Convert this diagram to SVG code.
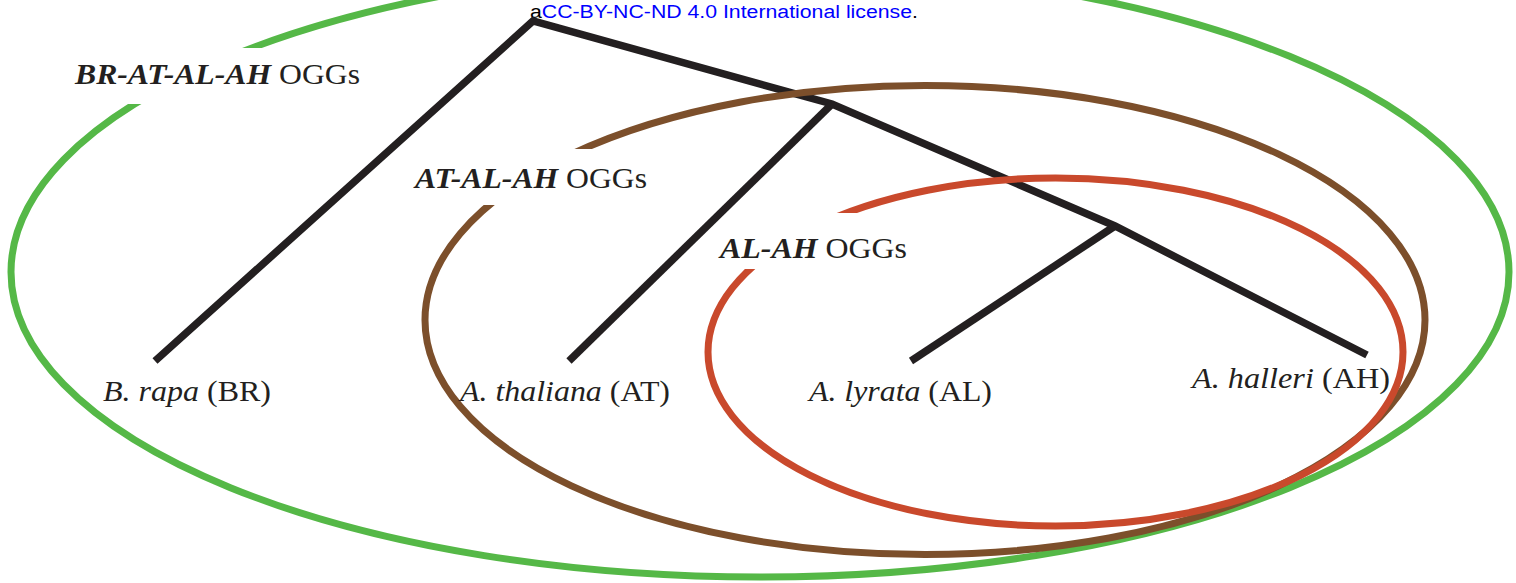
<svg xmlns="http://www.w3.org/2000/svg" width="1516" height="583" viewBox="0 0 1516 583">
<style>
.ring{fill:none;stroke-width:7}
.tree{fill:none;stroke:#231f20;stroke-width:7.5;stroke-linejoin:miter;stroke-linecap:butt}
.lbl{font-family:"Liberation Serif","Times New Roman",serif;fill:#231f20}
.ogg{font-size:30px}
.sp{font-size:29px}
.bi{font-weight:bold;font-style:italic}
.it{font-style:italic}
</style>
<defs>
<mask id="m-green" maskUnits="userSpaceOnUse" x="0" y="-60" width="1516" height="700">
<rect x="0" y="-60" width="1516" height="700" fill="#fff"/>
<rect x="60" y="48" width="320" height="56" fill="#000"/>
</mask>
<mask id="m-brown" maskUnits="userSpaceOnUse" x="0" y="0" width="1516" height="583">
<rect x="0" y="0" width="1516" height="583" fill="#fff"/>
<rect x="400" y="149" width="262" height="56" fill="#000"/>
</mask>
<mask id="m-red" maskUnits="userSpaceOnUse" x="0" y="0" width="1516" height="583">
<rect x="0" y="0" width="1516" height="583" fill="#fff"/>
<rect x="730" y="213" width="190" height="56" fill="#000"/>
</mask>
</defs>
<rect x="0" y="0" width="1516" height="583" fill="#fff"/>

<text x="530" y="17.5" font-family="Liberation Sans, Arial, sans-serif" font-size="18" fill="#000" textLength="388" lengthAdjust="spacingAndGlyphs">a<tspan fill="#0000ff">CC-BY-NC-ND 4.0 International license</tspan>.</text>

<g id="connectors">
<polyline class="tree" points="155,361 533,21 832,104 1115,226 1367,355"/>
<line class="tree" x1="832" y1="104" x2="569" y2="361"/>
<line class="tree" x1="1115" y1="226" x2="911" y2="361"/>
</g>

<g id="ogg-br-at-al-ah">
<ellipse class="ring" cx="760" cy="272" rx="749" ry="305" stroke="#55b847" mask="url(#m-green)"/>
<text class="lbl ogg" x="75" y="84" textLength="285" lengthAdjust="spacingAndGlyphs"><tspan class="bi">BR-AT-AL-AH</tspan> OGGs</text>
</g>

<g id="ogg-at-al-ah">
<ellipse class="ring" cx="925" cy="320" rx="500" ry="234.5" stroke="#7c4f2b" mask="url(#m-brown)"/>
<text class="lbl ogg" x="415" y="187.5" textLength="232" lengthAdjust="spacingAndGlyphs"><tspan class="bi">AT-AL-AH</tspan> OGGs</text>
</g>

<g id="ogg-al-ah">
<ellipse class="ring" cx="1055.5" cy="352" rx="347.5" ry="174" stroke="#c9492c" mask="url(#m-red)"/>
<text class="lbl ogg" x="720" y="257.5" textLength="187" lengthAdjust="spacingAndGlyphs"><tspan class="bi">AL-AH</tspan> OGGs</text>
</g>

<g id="sp-br">
<text class="lbl sp" x="103" y="401" textLength="168" lengthAdjust="spacingAndGlyphs"><tspan class="it">B. rapa</tspan> (BR)</text>
</g>
<g id="sp-at">
<text class="lbl sp" x="460" y="401" textLength="210" lengthAdjust="spacingAndGlyphs"><tspan class="it">A. thaliana</tspan> (AT)</text>
</g>
<g id="sp-al">
<text class="lbl sp" x="809" y="401" textLength="183" lengthAdjust="spacingAndGlyphs"><tspan class="it">A. lyrata</tspan> (AL)</text>
</g>
<g id="sp-ah">
<text class="lbl sp" x="1192" y="388" textLength="198" lengthAdjust="spacingAndGlyphs"><tspan class="it">A. halleri</tspan> (AH)</text>
</g>
</svg>
